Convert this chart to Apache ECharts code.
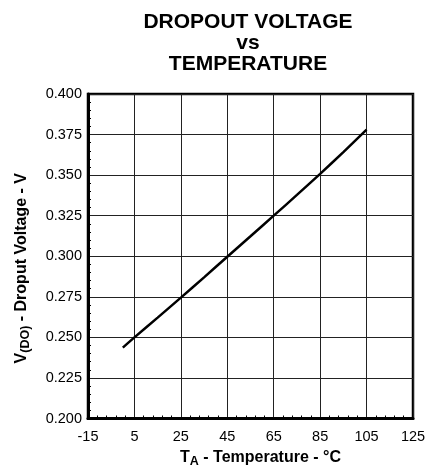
<!DOCTYPE html>
<html>
<head>
<meta charset="utf-8">
<script src="https://cdn.jsdelivr.net/npm/echarts@6/dist/echarts.min.js"></script>
<style>
  html, body { margin: 0; padding: 0; background: #fff; }
  #main { width: 426px; height: 466px; }
</style>
</head>
<body>
<div id="main"></div>
<script>
// data
const temps = [0, 5, 15, 25, 35, 45, 55, 65, 75, 85, 95, 105];
const dropout = [0.2437, 0.250, 0.2622, 0.2745, 0.2870, 0.2997, 0.3123, 0.3250, 0.3378, 0.3508, 0.3642, 0.378];
const xTicks = [-15, 5, 25, 45, 65, 85, 105, 125];
const yTicks = [0.200, 0.225, 0.250, 0.275, 0.300, 0.325, 0.350, 0.375, 0.400];

const FONT = '"Liberation Sans", Arial, sans-serif';

let myChart = echarts.init(document.getElementById('main'));

myChart.setOption({
  animation: false,
  backgroundColor: '#fff',
  graphic: [
    {
      type: 'text',
      x: 248,
      y: 12,
      style: {
        text: 'DROPOUT VOLTAGE\nvs\nTEMPERATURE',
        align: 'center',
        fontFamily: FONT,
        fontWeight: 'bold',
        fontSize: 21,
        lineHeight: 21,
        fill: '#000'
      }
    }
  ],
  grid: {
    left: 88,
    right: 13,
    top: 94,
    bottom: 47.5,
    outerBoundsMode: 'none',
    show: true,
    borderColor: '#000',
    borderWidth: 2.5
  },
  xAxis: {
    type: 'value',
    min: xTicks[0],
    max: xTicks[xTicks.length - 1],
    interval: 20,
    axisLine: { onZero: false, lineStyle: { color: '#000', width: 3 } },
    axisTick: { show: false, inside: true },
    minorTick: { show: true, splitNumber: 5, length: 3, lineStyle: { color: '#000', width: 1 } },
    axisLabel: { margin: 11, color: '#000', fontSize: 14.5, fontFamily: FONT },
    splitLine: { show: true, lineStyle: { color: '#222', width: 1 } },
    name: '{t|T}{s|A}{t| - Temperature - °C}',
    nameLocation: 'middle',
    nameGap: 27,
    nameTextStyle: {
      padding: [0, 0, 0, 20],
      rich: {
        t: { fontSize: 16, fontWeight: 'bold', fontFamily: FONT, color: '#000' },
        s: { fontSize: 12.5, fontWeight: 'bold', fontFamily: FONT, color: '#000', padding: [8, 0, 0, 0] }
      }
    }
  },
  yAxis: {
    type: 'value',
    min: yTicks[0],
    max: yTicks[yTicks.length - 1],
    interval: 0.025,
    axisLine: { show: true, onZero: false, lineStyle: { color: '#000', width: 3 } },
    axisTick: { show: false, inside: true },
    minorTick: { show: true, splitNumber: 5, length: 3, lineStyle: { color: '#000', width: 1 } },
    axisLabel: {
      margin: 6,
      color: '#000',
      fontSize: 14.5,
      fontFamily: FONT,
      formatter: (v) => v.toFixed(3)
    },
    splitLine: { show: true, lineStyle: { color: '#222', width: 1 } },
    name: '{t|V}{s|(DO)}{t| - Droput Voltage - V}',
    nameLocation: 'middle',
    nameGap: 56,
    nameTextStyle: {
      padding: [0, 24, 0, 0],
      rich: {
        t: { fontSize: 16, fontWeight: 'bold', fontFamily: FONT, color: '#000' },
        s: { fontSize: 12.5, fontWeight: 'bold', fontFamily: FONT, color: '#000', padding: [8, 0, 0, 0] }
      }
    }
  },
  series: [
    {
      type: 'line',
      data: temps.map((t, i) => [t, dropout[i]]),
      showSymbol: false,
      smooth: 0.3,
      lineStyle: { color: '#000', width: 2.5 }
    }
  ]
});
</script>
</body>
</html>
